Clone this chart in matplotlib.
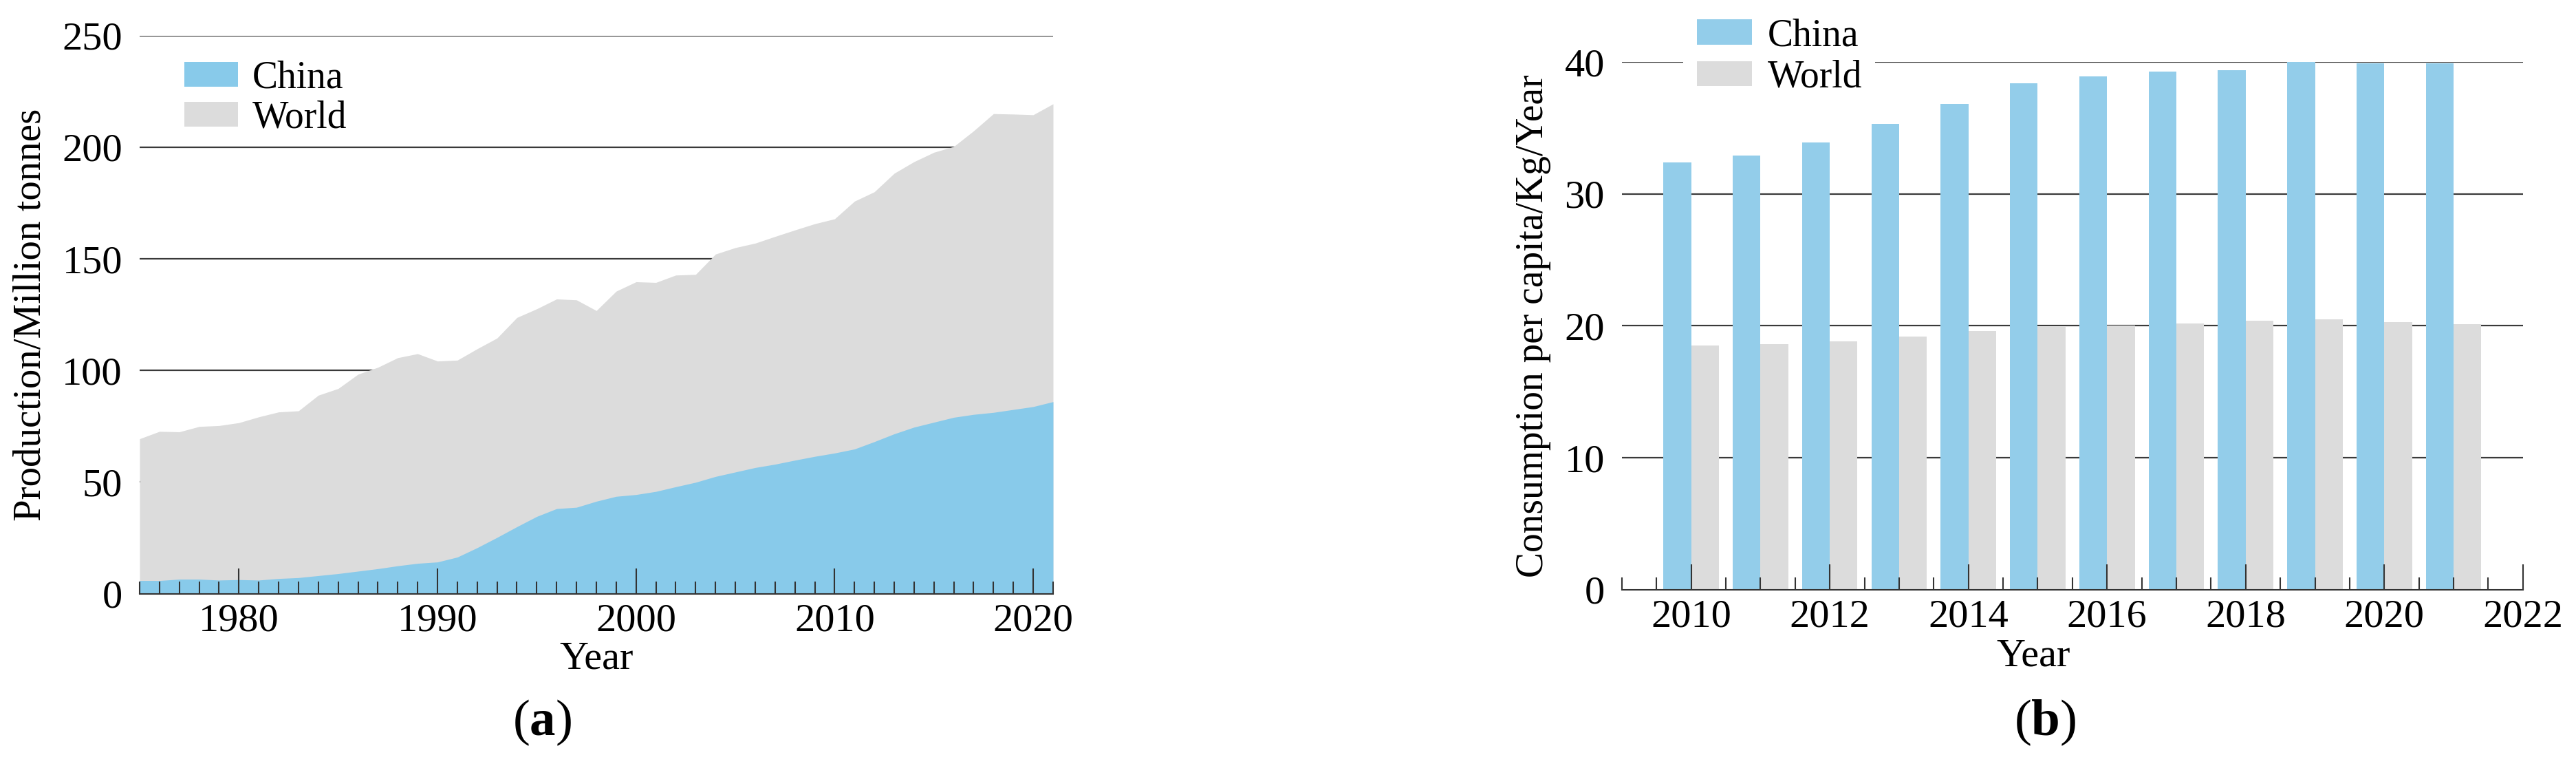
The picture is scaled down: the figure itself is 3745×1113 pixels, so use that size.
import numpy as np
import matplotlib
matplotlib.use('Agg')
import matplotlib.pyplot as plt
from matplotlib.ticker import MultipleLocator

# (a) production, million tonnes
years_a = np.arange(1975, 2022)
world_prod = [69.4, 72.7, 72.5, 74.9, 75.3, 76.6, 79.2, 81.4, 81.9, 88.9,
              91.9, 98.3, 101.4, 105.7, 107.5, 104.2, 104.6, 109.7, 114.5, 123.7,
              127.6, 132.0, 131.6, 126.8, 135.5, 139.7, 139.4, 142.7, 143.0, 152.1,
              155.0, 157.0, 160.0, 162.9, 165.7, 167.9, 175.8, 180.0, 188.3, 193.5,
              197.7, 200.3, 207.3, 215.0, 214.8, 214.5, 219.4]
china_prod = [5.9, 5.9, 6.5, 6.5, 6.1, 6.3, 6.1, 6.8, 7.2, 8.1,
              9.0, 10.1, 11.2, 12.5, 13.6, 14.2, 16.4, 20.6, 25.2, 30.0,
              34.6, 38.1, 38.7, 41.4, 43.6, 44.4, 45.8, 47.9, 49.9, 52.5,
              54.5, 56.5, 58.0, 59.8, 61.5, 63.0, 64.8, 68.1, 71.6, 74.6,
              76.8, 79.0, 80.3, 81.2, 82.5, 83.8, 86.0]

# (b) consumption per capita, kg/year
years_b = np.arange(2010, 2022)
china_cons = [32.4, 32.9, 33.9, 35.3, 36.8, 38.4, 38.9, 39.25, 39.4, 40.0, 39.9, 39.9]
world_cons = [18.5, 18.6, 18.8, 19.2, 19.6, 19.9, 20.0, 20.2, 20.4, 20.5, 20.3, 20.1]

blue_area = '#88CAEA'
blue_bar = '#93CDEA'
grey = '#DCDCDC'
dark = '#333333'

plt.rcParams['font.family'] = ['Liberation Serif', 'DejaVu Serif']
plt.rcParams['mathtext.fontset'] = 'custom'
plt.rcParams['mathtext.rm'] = 'Liberation Serif'
plt.rcParams['mathtext.bf'] = 'Liberation Serif:bold'
plt.rcParams['font.size'] = 42

fig = plt.figure(figsize=(37.45, 11.13), dpi=100)


def style_axis(ax):
    for s in ['left', 'right', 'top']:
        ax.spines[s].set_visible(False)
    ax.spines['bottom'].set_color(dark)
    ax.spines['bottom'].set_linewidth(1.5)
    ax.tick_params(axis='y', length=0, pad=18)
    ax.tick_params(axis='x', which='both', direction='in', color=dark, width=1.5, pad=10)
    ax.tick_params(axis='x', which='major', length=27)
    ax.tick_params(axis='x', which='minor', length=13)
    for v in ax.get_yticks():
        if v > 0:
            ax.axhline(v, color='#3a3a3a', lw=1.6, zorder=0)


# ---- (a) ----
ax1 = fig.add_axes([0.0542, 0.2249, 0.3546, 0.7287])
ax1.fill_between(years_a, 0, world_prod, color=grey, lw=0, label='World', zorder=1)
ax1.fill_between(years_a, 0, china_prod, color=blue_area, lw=0, label='China', zorder=1.1)
ax1.set_xlim(1975, 2021)
ax1.set_ylim(0, 250)
ax1.set_yticks(np.arange(0, 251, 50))
ax1.xaxis.set_major_locator(MultipleLocator(10))
ax1.xaxis.set_minor_locator(MultipleLocator(1))
style_axis(ax1)
ax1.set_xlabel('Year', labelpad=2)
ax1.set_ylabel('Production/Million tonnes', labelpad=14, fontsize=41)
h, l = ax1.get_legend_handles_labels()
ax1.legend(h[::-1], l[::-1], loc='upper left', bbox_to_anchor=(0.028, 0.99),
           frameon=False, fontsize=40, handlelength=1.4, handleheight=0.62,
           handletextpad=0.38, labelspacing=0.1, borderpad=0)

# ---- (b) ----
ax2 = fig.add_axes([0.6296, 0.2303, 0.3498, 0.6888])
w = 0.4
ax2.bar(years_b - w / 2, china_cons, width=w, color=blue_bar, label='China', zorder=1)
ax2.bar(years_b + w / 2, world_cons, width=w, color=grey, label='World', zorder=1)
ax2.set_xlim(2009, 2022)
ax2.set_ylim(0, 40)
ax2.set_yticks(np.arange(0, 41, 10))
ax2.xaxis.set_major_locator(MultipleLocator(2))
ax2.xaxis.set_minor_locator(MultipleLocator(0.5))
style_axis(ax2)
ax2.set_xlabel('Year')
ax2.xaxis.set_label_coords(0.457, -0.092)
ax2.set_ylabel('Consumption per capita/Kg/Year', labelpad=14, fontsize=40)
leg = ax2.legend(loc='upper left', bbox_to_anchor=(0.047, 1.145),
                 frameon=True, fancybox=False, edgecolor='none', facecolor='white',
                 framealpha=1, fontsize=40, handlelength=1.45, handleheight=0.64,
                 handletextpad=0.4, labelspacing=0.15, borderpad=0.35)
leg.set_zorder(3)

fig.text(0.2104, 0.056, r'($\mathbf{a}$)', ha='center', va='center', fontsize=54)
fig.text(0.7939, 0.056, r'($\mathbf{b}$)', ha='center', va='center', fontsize=54)

fig.savefig('out.png', dpi=100, facecolor='white')
